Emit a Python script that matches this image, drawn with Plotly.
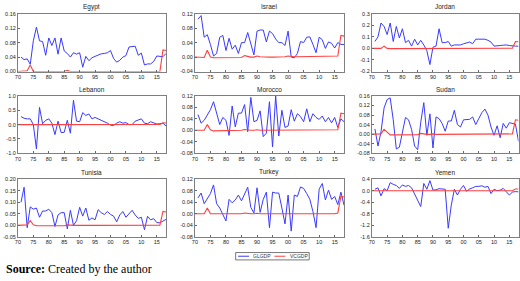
import plotly.graph_objects as go

W, H = 520, 281

countries = ["Egypt", "Israel", "Jordan", "Lebanon", "Morocco", "Sudan", "Tunisia", "Turkey", "Yemen"]

years_gl = list(range(1971, 2019))
years_vc = list(range(1970, 2019))

x_tickvals = [1970, 1975, 1980, 1985, 1990, 1995, 2000, 2005, 2010, 2015]
x_ticktext = ["70", "75", "80", "85", "90", "95", "00", "05", "10", "15"]

egypt_gl = [0.040, 0.033, 0.035, 0.020, 0.085, 0.123, 0.085, 0.083, 0.045, 0.093,
            0.072, 0.093, 0.048, 0.093, 0.057, 0.050, 0.040, 0.052, 0.048, 0.052,
            0.012, 0.042, 0.030, 0.038, 0.042, 0.046, 0.049, 0.050, 0.052, 0.058,
            0.036, 0.026, 0.031, 0.040, 0.044, 0.068, 0.070, 0.070, 0.045, 0.051,
            0.018, 0.021, 0.021, 0.028, 0.043, 0.043, 0.041, 0.050]
israel_gl = [0.105, 0.115, 0.055, 0.062, 0.035, 0.003, 0.010, 0.055, 0.060, 0.018,
             0.052, 0.022, 0.033, 0.010, 0.040, 0.040, 0.068, 0.035, 0.006, 0.072,
             0.075, 0.075, 0.042, 0.072, 0.065, 0.050, 0.040, 0.040, 0.032, 0.072,
             0.000, -0.002, 0.010, 0.043, 0.040, 0.055, 0.056, 0.035, 0.012, 0.055,
             0.048, 0.024, 0.042, 0.038, 0.025, 0.040, 0.035, 0.035]
jordan_gl = [0.06, 0.10, 0.22, 0.19, 0.12, 0.22, 0.06, 0.19, 0.09, 0.17,
             0.05, 0.07, 0.02, 0.08, 0.03, 0.07, 0.03, -0.02, -0.14, 0.01,
             0.02, 0.17, 0.05, 0.05, 0.06, 0.02, 0.03, 0.03, 0.03, 0.04,
             0.05, 0.055, 0.04, 0.08, 0.08, 0.08, 0.08, 0.07, 0.055, 0.02,
             0.025, 0.025, 0.028, 0.03, 0.025, 0.02, 0.02, 0.019]
lebanon_gl = [0.28, 0.22, 0.20, 0.20, 0.00, -0.85, 0.60, 0.03, 0.15, 0.20,
              0.05, -0.35, 0.12, -0.28, -0.27, 0.15, -0.30, 0.85, 0.12, 0.10,
              0.42, 0.32, 0.37, 0.20, 0.25, 0.20, 0.15, 0.12, 0.05, -0.02,
              -0.03, 0.05, 0.10, 0.05, 0.07, 0.00, 0.00, 0.12, 0.15, 0.20,
              0.05, 0.03, 0.10, 0.05, 0.02, 0.03, 0.05, -0.05]
morocco_gl = [0.055, 0.025, 0.035, 0.055, 0.072, 0.100, 0.055, 0.020, 0.045, 0.035,
              -0.018, 0.085, 0.012, 0.060, 0.060, 0.090, -0.005, 0.115, 0.030, 0.035,
              0.068, -0.022, -0.010, 0.100, -0.058, 0.120, -0.020, 0.070, 0.010, 0.015,
              0.072, 0.032, 0.058, 0.048, 0.030, 0.075, 0.030, 0.058, 0.045, 0.038,
              0.050, 0.030, 0.045, 0.026, 0.045, 0.010, 0.040, 0.030]
sudan_gl = [0.022, -0.050, 0.010, 0.110, 0.145, 0.152, 0.060, -0.062, -0.055, 0.015,
            0.070, 0.060, 0.020, -0.050, -0.065, 0.050, 0.132, -0.005, 0.085, -0.058,
            0.072, 0.065, 0.045, 0.012, 0.055, 0.055, 0.100, 0.040, 0.030, 0.060,
            0.060, 0.062, 0.072, 0.040, 0.065, 0.090, 0.105, 0.080, 0.030, -0.005,
            0.035, -0.015, 0.045, 0.025, 0.048, 0.045, 0.042, -0.030]
tunisia_gl = [0.100, 0.165, -0.010, 0.080, 0.070, 0.075, 0.035, 0.062, 0.062, 0.070,
              0.055, -0.005, 0.045, 0.055, 0.055, -0.015, 0.065, 0.000, 0.020, 0.078,
              0.040, 0.075, 0.022, 0.032, 0.024, 0.068, 0.055, 0.047, 0.060, 0.047,
              0.040, 0.015, 0.045, 0.060, 0.035, 0.050, 0.065, 0.045, 0.030, 0.035,
              -0.019, 0.039, 0.024, 0.029, 0.012, 0.011, 0.019, 0.026]
turkey_gl = [0.055, 0.072, 0.035, 0.055, 0.070, 0.100, 0.035, 0.020, -0.005, -0.025,
             0.050, 0.038, 0.048, 0.065, 0.045, 0.070, 0.092, 0.022, 0.003, 0.090,
             0.005, 0.050, 0.075, -0.048, 0.075, 0.072, 0.072, 0.020, -0.035, 0.065,
             -0.060, 0.065, 0.060, 0.093, 0.088, 0.070, 0.050, 0.008, -0.048, 0.085,
             0.105, 0.048, 0.082, 0.050, 0.060, 0.032, 0.075, 0.030]
yemen_gl = [0.05, 0.10, -0.18, 0.07, 0.00, 0.28, 0.22, 0.18, 0.08, 0.20,
            0.15, 0.18, 0.10, -0.10, -0.30, -0.55, 0.25, 0.05, 0.35, 0.02,
            0.03, 0.07, 0.06, 0.05, -1.30, -0.50, 0.05, -0.15, 0.05, 0.18,
            -0.02, 0.06, 0.10, 0.15, 0.15, 0.17, 0.12, 0.15, -0.10, 0.05,
            0.00, 0.02, 0.08, -0.05, -0.15, -0.05, -0.03, -0.04]

egypt_vc = [0.000, 0.000, 0.000, 0.002, 0.018, 0.000, 0.000, 0.000, 0.000, 0.001,
            0.000, 0.000, 0.000, 0.000, 0.000, 0.000, 0.003, 0.000, 0.000, 0.000,
            0.002, 0.000, 0.000, 0.000, 0.000, 0.000, 0.000, 0.000, 0.000, 0.000,
            0.000, 0.000, 0.000, 0.000, 0.000, 0.000, 0.000, 0.000, 0.000, 0.000,
            0.000, 0.000, 0.000, 0.000, 0.000, 0.000, 0.000, 0.060, 0.058]
israel_vc = [0.000, 0.000, 0.000, -0.001, 0.019, 0.000, -0.002, -0.002, -0.001, -0.001,
             -0.001, -0.001, -0.001, -0.001, -0.001, -0.001, 0.004, 0.001, 0.000, 0.000,
             0.003, 0.001, 0.000, 0.000, 0.000, 0.000, 0.000, 0.000, 0.001, 0.001,
             0.003, 0.001, 0.001, 0.001, 0.001, 0.001, 0.001, 0.001, 0.002, 0.001,
             0.001, 0.001, 0.001, 0.001, 0.001, 0.002, 0.003, 0.060, 0.058]
jordan_vc = [0.000, 0.000, 0.000, 0.000, 0.020, 0.000, -0.002, -0.002, -0.002, -0.002,
             -0.002, -0.002, -0.002, -0.002, -0.002, -0.002, 0.003, 0.000, 0.000, 0.000,
             0.002, 0.000, 0.000, 0.000, 0.000, 0.000, 0.000, 0.000, 0.000, 0.000,
             0.002, 0.000, 0.000, 0.000, 0.000, 0.000, 0.000, 0.000, 0.001, 0.000,
             0.000, 0.000, 0.000, 0.000, 0.000, 0.000, 0.001, 0.060, 0.058]
lebanon_vc = [0.000, 0.000, 0.000, 0.000, 0.020, 0.000, -0.002, -0.002, -0.002, -0.002,
              -0.002, -0.002, -0.002, -0.002, -0.002, -0.002, 0.003, 0.000, 0.000, 0.000,
              0.002, 0.000, 0.000, 0.000, 0.000, 0.000, 0.000, 0.000, 0.000, 0.000,
              0.002, 0.000, 0.000, 0.000, 0.000, 0.000, 0.000, 0.000, 0.001, 0.000,
              0.000, 0.000, 0.000, 0.000, 0.000, 0.000, 0.001, 0.060, 0.058]
morocco_vc = [0.000, 0.000, 0.000, 0.000, 0.020, 0.002, -0.002, -0.002, -0.002, -0.002,
              -0.002, -0.002, -0.002, -0.002, -0.002, 0.000, 0.003, 0.001, 0.000, 0.000,
              0.002, 0.000, 0.000, 0.000, 0.000, 0.000, 0.000, 0.000, 0.000, 0.000,
              0.001, 0.000, 0.000, 0.000, 0.000, 0.000, 0.000, 0.000, 0.002, 0.000,
              0.000, 0.000, 0.000, 0.000, 0.000, 0.000, 0.002, 0.060, 0.058]
sudan_vc = [0.000, 0.000, 0.000, 0.001, 0.020, 0.008, -0.003, -0.003, -0.003, -0.003,
            -0.003, -0.003, -0.003, -0.003, -0.003, -0.002, 0.003, 0.000, -0.001, -0.001,
            0.001, -0.001, -0.001, -0.001, -0.001, -0.001, -0.001, 0.000, 0.000, 0.000,
            0.001, 0.000, 0.000, 0.000, 0.000, 0.000, 0.000, 0.000, 0.001, 0.000,
            0.000, 0.000, 0.000, 0.000, 0.000, 0.000, 0.001, 0.060, 0.058]
tunisia_vc = [0.000, 0.000, 0.000, 0.002, 0.020, 0.002, -0.002, -0.002, -0.002, -0.002,
              -0.002, -0.002, -0.002, -0.002, -0.002, -0.002, 0.002, 0.000, 0.000, 0.000,
              0.001, 0.000, 0.000, 0.000, 0.000, 0.000, 0.000, 0.000, 0.000, 0.000,
              0.001, 0.000, 0.000, 0.000, 0.000, 0.000, 0.000, 0.000, 0.001, 0.000,
              0.000, 0.000, 0.000, 0.000, 0.000, 0.000, 0.001, 0.060, 0.058]
turkey_vc = [0.000, 0.000, 0.000, 0.000, 0.020, 0.000, 0.000, 0.000, 0.000, 0.000,
             0.000, 0.000, 0.000, 0.000, 0.000, 0.000, 0.003, 0.001, 0.000, 0.000,
             0.002, 0.000, 0.000, 0.000, 0.000, 0.000, 0.000, 0.000, 0.000, 0.000,
             0.001, 0.000, 0.000, 0.000, 0.000, 0.000, 0.000, 0.000, 0.001, 0.000,
             0.000, 0.000, 0.000, 0.000, 0.000, 0.000, 0.003, 0.060, 0.058]
yemen_vc = [0.000, 0.000, 0.000, 0.000, 0.020, 0.000, -0.002, -0.002, -0.002, -0.002,
            -0.002, -0.002, -0.002, -0.002, -0.002, -0.002, 0.003, 0.000, 0.000, 0.000,
            0.002, 0.000, 0.000, 0.000, 0.000, 0.000, 0.000, 0.000, 0.000, 0.000,
            0.001, 0.000, 0.000, 0.000, 0.000, 0.000, 0.000, 0.000, 0.001, 0.000,
            0.000, 0.000, 0.000, 0.000, 0.000, 0.000, 0.001, 0.060, 0.058]

gl_series = [egypt_gl, israel_gl, jordan_gl, lebanon_gl, morocco_gl, sudan_gl, tunisia_gl, turkey_gl, yemen_gl]
vc_series = [egypt_vc, israel_vc, jordan_vc, lebanon_vc, morocco_vc, sudan_vc, tunisia_vc, turkey_vc, yemen_vc]

y_ticks = [
    ([0.00, 0.04, 0.08, 0.12, 0.16], ["0.00", "0.04", "0.08", "0.12", "0.16"]),
    ([-0.04, 0.00, 0.04, 0.08, 0.12], ["-0.04", "0.00", "0.04", "0.08", "0.12"]),
    ([-0.2, -0.1, 0.0, 0.1, 0.2, 0.3], ["-0.2", "-0.1", "0.0", "0.1", "0.2", "0.3"]),
    ([-1.0, -0.5, 0.0, 0.5, 1.0], ["-1.0", "-0.5", "0.0", "0.5", "1.0"]),
    ([-0.08, -0.04, 0.00, 0.04, 0.08, 0.12], ["-0.08", "-0.04", "0.00", "0.04", "0.08", "0.12"]),
    ([-0.08, -0.04, 0.00, 0.04, 0.08, 0.12, 0.16], ["-0.08", "-0.04", "0.00", "0.04", "0.08", "0.12", "0.16"]),
    ([-0.05, 0.00, 0.05, 0.10, 0.15, 0.20], ["-0.05", "0.00", "0.05", "0.10", "0.15", "0.20"]),
    ([-0.08, -0.04, 0.00, 0.04, 0.08, 0.12], ["-0.08", "-0.04", "0.00", "0.04", "0.08", "0.12"]),
    ([-1.6, -1.2, -0.8, -0.4, 0.0, 0.4], ["-1.6", "-1.2", "-0.8", "-0.4", "0.0", "0.4"]),
]

legend_names = ["GLGDP", "VCGDP"]

# layout geometry in pixels
col_px = [(15, 164), (193, 343), (371, 518.5)]
row_px = [(11, 70), (95, 153.5), (180, 239)]


def px_x(v):
    return v / W


def px_y(v):
    return 1 - v / H


fig = go.Figure()
layout = dict(
    width=W, height=H, margin=dict(l=0, r=0, t=0, b=0),
    paper_bgcolor="white", plot_bgcolor="white", showlegend=False,
    font=dict(family="Liberation Sans, Arial", size=6, color="#222"),
)
annotations = []
shapes = []
BLUE = "#3a3aff"
RED = "#ff4040"

for i, name in enumerate(countries):
    r, c = divmod(i, 3)
    k = "" if i == 0 else str(i + 1)
    x0, x1 = col_px[c]
    y0, y1 = row_px[r]
    tv, tt = y_ticks[i]
    fig.add_trace(go.Scatter(x=years_gl, y=gl_series[i], mode="lines", name=legend_names[0],
                             line=dict(color=BLUE, width=1), xaxis="x" + k, yaxis="y" + k))
    fig.add_trace(go.Scatter(x=years_vc, y=vc_series[i], mode="lines", name=legend_names[1],
                             line=dict(color=RED, width=1.1), xaxis="x" + k, yaxis="y" + k))
    layout["xaxis" + k] = dict(
        domain=[px_x(x0), px_x(x1)], anchor="y" + k, range=[1970, 2018],
        tickvals=x_tickvals, ticktext=x_ticktext, ticks="inside", ticklen=2, tickcolor="#666",
        showline=True, mirror=True, linecolor="#7f7f7f", linewidth=1, showgrid=False, zeroline=False,
        tickfont=dict(size=5.5, color="#222"),
    )
    layout["yaxis" + k] = dict(
        domain=[px_y(y1), px_y(y0)], anchor="x" + k, range=[tv[0], tv[-1]],
        tickvals=tv, ticktext=tt, ticks="inside", ticklen=2, tickcolor="#666",
        showline=True, mirror=True, linecolor="#7f7f7f", linewidth=1, showgrid=False, zeroline=False,
        tickfont=dict(size=5.5, color="#222"),
    )
    annotations.append(dict(text=name, x=px_x((x0 + x1) / 2), y=px_y(y0 - 7), xref="paper", yref="paper",
                            showarrow=False, xanchor="center", yanchor="middle",
                            font=dict(size=6.5, color="#222")))

# legend box
lx0, lx1, ly0, ly1 = 234, 308, 255, 262.5
shapes.append(dict(type="rect", xref="paper", yref="paper", x0=px_x(lx0), x1=px_x(lx1), y0=px_y(ly1), y1=px_y(ly0),
                   line=dict(color="#555", width=0.8), fillcolor="white"))
ly = (ly0 + ly1) / 2
shapes.append(dict(type="line", xref="paper", yref="paper", x0=px_x(236.5), x1=px_x(247.5), y0=px_y(ly), y1=px_y(ly),
                   line=dict(color=BLUE, width=1)))
shapes.append(dict(type="line", xref="paper", yref="paper", x0=px_x(273), x1=px_x(284), y0=px_y(ly), y1=px_y(ly),
                   line=dict(color=RED, width=1)))
annotations.append(dict(text=legend_names[0], x=px_x(249), y=px_y(ly), xref="paper", yref="paper", showarrow=False,
                        xanchor="left", yanchor="middle", font=dict(size=5, color="#333")))
annotations.append(dict(text=legend_names[1], x=px_x(287), y=px_y(ly), xref="paper", yref="paper", showarrow=False,
                        xanchor="left", yanchor="middle", font=dict(size=5, color="#333")))

annotations.append(dict(text="<b>Source:</b> Created by the author", x=px_x(1), y=px_y(272), xref="paper", yref="paper",
                        showarrow=False, xanchor="left", yanchor="middle",
                        font=dict(family="Liberation Serif, Times New Roman", size=12, color="black")))

layout["annotations"] = annotations
layout["shapes"] = shapes
fig.update_layout(**layout)
fig.write_html("out.html")
